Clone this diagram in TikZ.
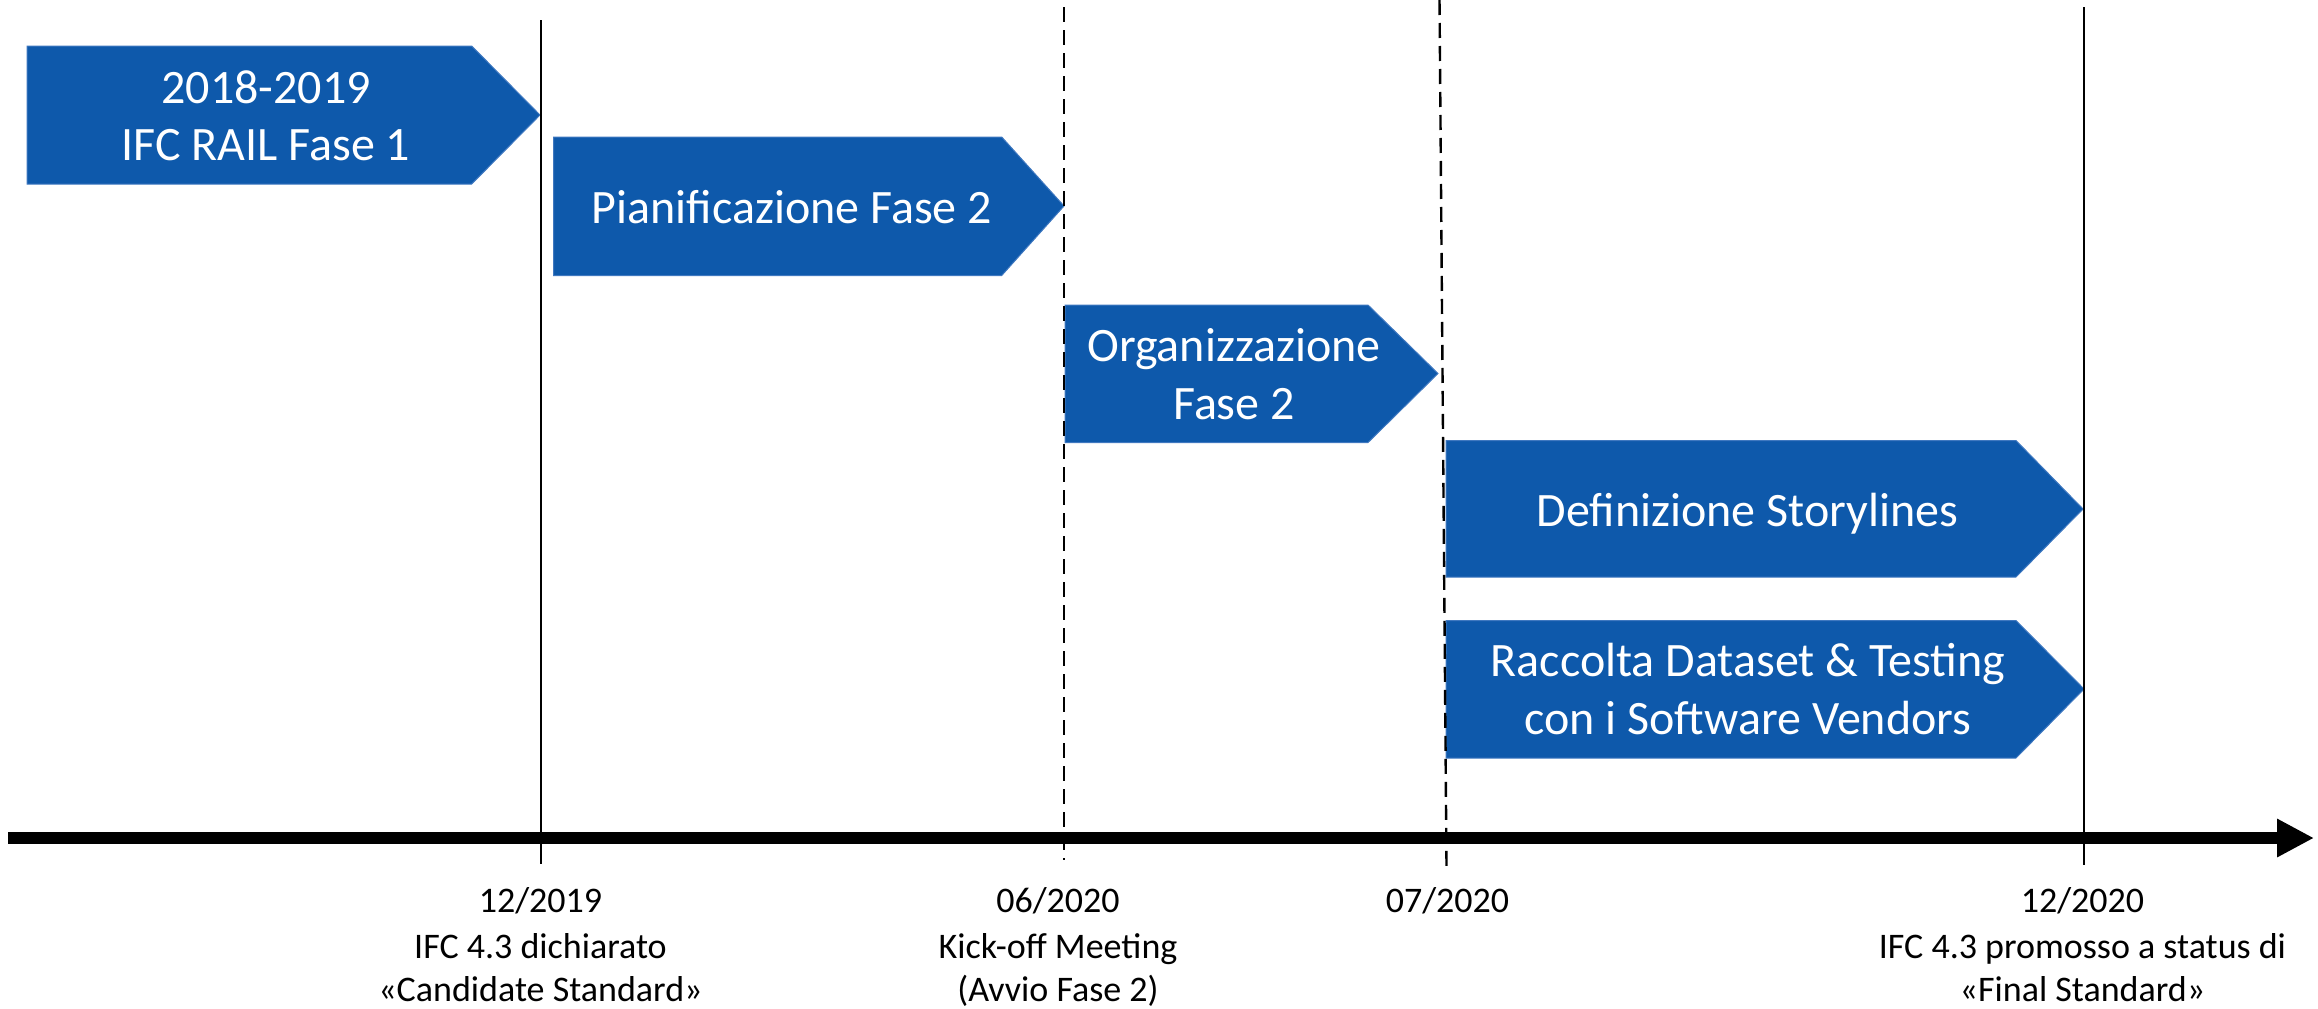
\documentclass[tikz,border=0pt]{standalone}
\usepackage{fontspec}
\setmainfont{Carlito}
\usetikzlibrary{arrows.meta}
\definecolor{boxblue}{HTML}{0E59AB}
\definecolor{edgeblue}{HTML}{3F78C0}
\begin{document}
\begin{tikzpicture}[x=1pt,y=-1pt,
  phase/.style={fill=boxblue, draw=edgeblue, line width=1pt},
  boxtext/.style={text=white, font=\fontsize{48}{57}\selectfont, anchor=base, inner sep=0pt},
  datetext/.style={text=black, font=\fontsize{36}{44}\selectfont, anchor=base, inner sep=0pt},
  milestone/.style={line width=2.4pt, draw=black},
  milestonedash/.style={line width=2.4pt, draw=black, dash pattern=on 15pt off 8pt},
]
\useasboundingbox (0,0) rectangle (2318,1009);

% phase arrows
\path[phase] (27,46) -- (471.7,46) -- (540,115) -- (471.7,184) -- (27,184) -- cycle;
\path[phase] (553.6,137) -- (1001.7,137) -- (1064,206) -- (1001.7,275.5) -- (553.6,275.5) -- cycle;
\path[phase] (1065,305) -- (1368,305) -- (1438,373.5) -- (1368,442.5) -- (1065,442.5) -- cycle;
\path[phase] (1446,440.5) -- (2016,440.5) -- (2083,509) -- (2016,577) -- (1446,577) -- cycle;
\path[phase] (1446,620.5) -- (2016,620.5) -- (2084,689) -- (2016,758) -- (1446,758) -- cycle;

% phase texts
\node[boxtext] (p1a) at (266,103) {2018-2019};
\node[boxtext] (p1b) at (266,160) {IFC RAIL Fase 1};
\node[boxtext] (p2) at (792,223) {Pianificazione Fase 2};
\node[boxtext] (p3a) at (1234,361.7) {Organizzazione};
\node[boxtext] (p3b) at (1234,419) {Fase 2};
\node[boxtext] (p4) at (1747.5,526) {Definizione Storylines};
\node[boxtext] (p5a) at (1748,676.7) {Raccolta Dataset \& Testing};
\node[boxtext] (p5b) at (1748,734) {con i Software Vendors};

% milestone lines
\coordinate (l1t) at (541,20);   \coordinate (l1b) at (541,864);
\coordinate (d1t) at (1064,7);   \coordinate (d1b) at (1064,860);
\coordinate (d2t) at (1439.5,0); \coordinate (d2b) at (1446.5,867);
\coordinate (l2t) at (2084,7);   \coordinate (l2b) at (2084,865);
\draw[milestone] (l1t) -- (l1b);
\draw[milestonedash] (d1t) -- (d1b);
\draw[milestonedash] (d2t) -- (d2b);
\draw[milestone] (l2t) -- (l2b);

% time axis
\coordinate (ax0) at (8,838);
\coordinate (ax1) at (2314,838);
\draw[line width=12pt, -{Triangle[length=37pt, width=36pt]}] (ax0) -- (ax1);

% date labels
\node[datetext] (m1a) at (540.5,912) {12/2019};
\node[datetext] (m1b) at (540.5,958) {IFC 4.3 dichiarato};
\node[datetext] (m1c) at (540.5,1001) {«Candidate Standard»};
\node[datetext] (m2a) at (1058,912) {06/2020};
\node[datetext] (m2b) at (1058,958) {Kick-off Meeting};
\node[datetext] (m2c) at (1058,1001) {(Avvio Fase 2)};
\node[datetext] (m3a) at (1447.5,912) {07/2020};
\node[datetext] (m4a) at (2082.5,912) {12/2020};
\node[datetext] (m4b) at (2082.5,958) {IFC 4.3 promosso a status di};
\node[datetext] (m4c) at (2082.5,1001) {«Final Standard»};
\end{tikzpicture}
\end{document}
